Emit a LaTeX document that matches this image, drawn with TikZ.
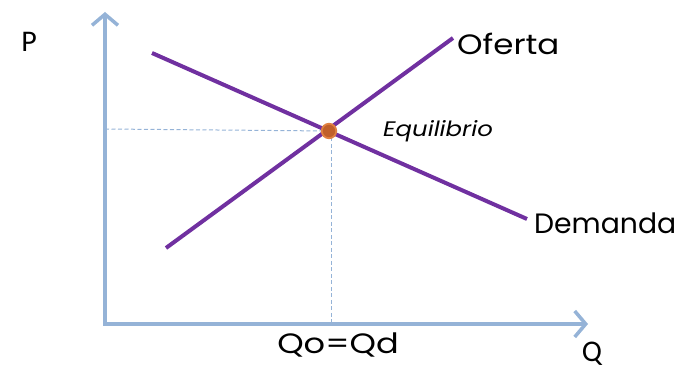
\documentclass[tikz,border=0pt]{standalone}
\usepackage{fontspec}
\setmainfont{Poppins}
\newfontfamily\calib{Carlito}
\usetikzlibrary{arrows.meta}
\definecolor{axisblue}{HTML}{95B3D7}
\definecolor{curvepurple}{HTML}{7030A0}
\definecolor{dotfill}{HTML}{C0602A}
\definecolor{dotline}{HTML}{E08040}
\tikzset{
  axisline/.style={draw=axisblue, line width=4pt, -{Straight Barb[length=11pt,width=26pt,line width=3.5pt]}},
  curve/.style={draw=curvepurple, line width=4pt},
  guide/.style={draw=axisblue, line width=1pt, dash pattern=on 4pt off 2.5pt},
  lbl/.style={inner sep=0pt, font=\fontsize{28}{30}\selectfont},
  axlbl/.style={inner sep=0pt, font=\calib\fontsize{30}{34}\selectfont},
}
\begin{document}
\begin{tikzpicture}[x=1pt,y=-1pt]
\useasboundingbox (0,0) rectangle (691,371);
\coordinate (O) at (105,324);
\coordinate (Ytop) at (105,12);
\coordinate (Xend) at (588,324);
\coordinate (Ds) at (152,53);
\coordinate (De) at (527,219);
\coordinate (Ss) at (166,248);
\coordinate (Se) at (453,38);
\coordinate (E) at (329,131);
\coordinate (Ey) at (105,129);
\coordinate (Ex) at (331,324);
\coordinate (Eb) at (331,131);
% guides
\draw[guide] (Ey) -- (E);
\draw[guide] (Eb) -- (Ex);
% axes
\draw[axisline] (O) -- (Ytop);
\draw[axisline] ([xshift=-2pt]O) -- (Xend);
% curves
\draw[curve] (Ds) -- (De);
\draw[curve] (Ss) -- (Se);
\node[circle, fill=dotfill, draw=dotline, line width=1.8pt, minimum size=14.5pt, inner sep=0pt] (eq) at (E) {};
% labels
\node[axlbl] (P) at (29,42) {P};
\node[axlbl] (Q) at (592,354) {Q};
\node[lbl, anchor=west] (of) at (457,44) {\scalebox{1.16}[1]{Oferta}};
\node[lbl, anchor=west] (dem) at (534,223) {\scalebox{1.01}[1]{Demanda}};
\node[lbl, anchor=west, font=\itshape\fontsize{21}{24}\selectfont] (eql) at (383,131) {\scalebox{1.16}[1]{Equilibrio}};
\node[lbl] (qoqd) at (338,345) {\scalebox{1.2}[1]{Qo=Qd}};
\end{tikzpicture}
\end{document}
